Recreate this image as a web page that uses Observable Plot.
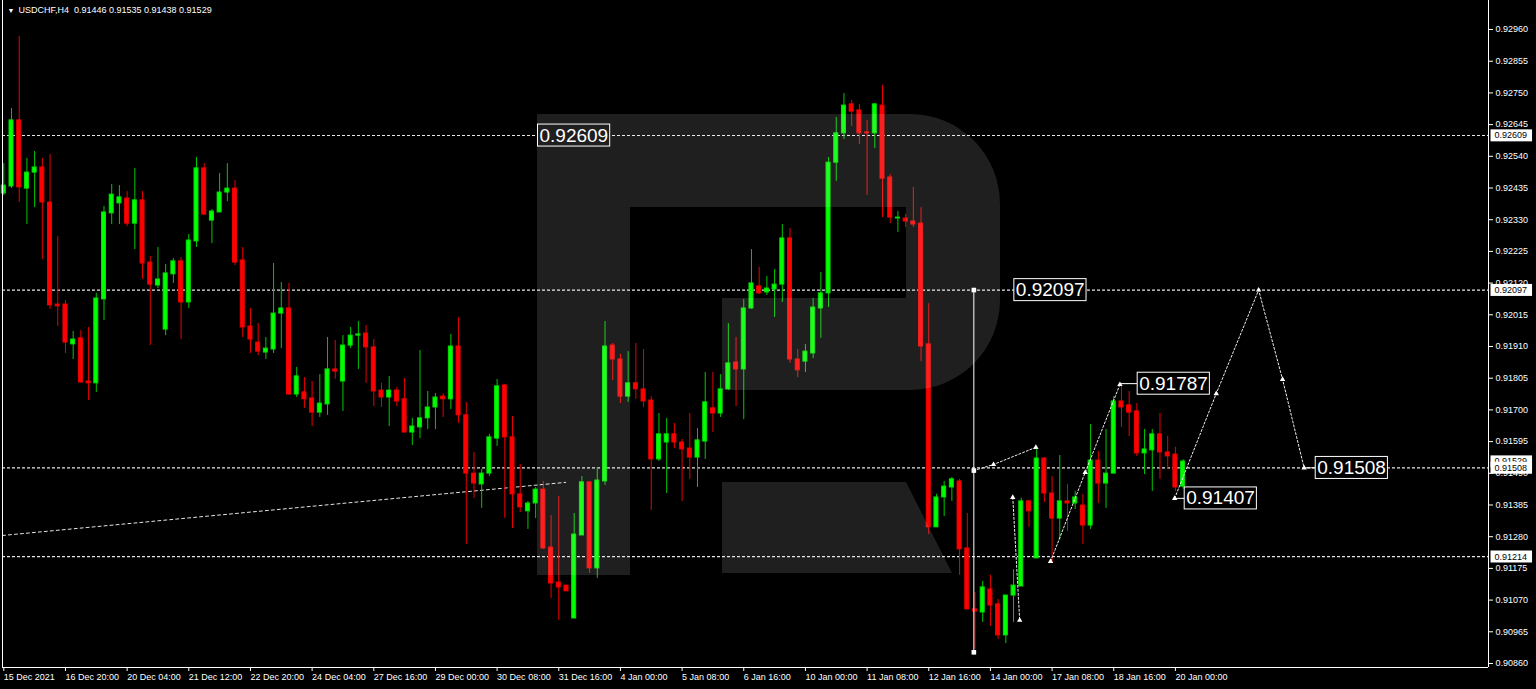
<!DOCTYPE html>
<html><head><meta charset="utf-8">
<script src="https://cdn.jsdelivr.net/npm/d3@7"></script>
<script src="https://cdn.jsdelivr.net/npm/@observablehq/plot@0.6"></script>
<style>
html,body{margin:0;padding:0;background:#000;overflow:hidden}
#chart svg{display:block}
</style></head><body><div id="chart"></div>
<script>
// ---- data (USDCHF H4) ----
const titleText = "USDCHF,H4  0.91446 0.91535 0.91438 0.91529";
const dateLabels = ["15 Dec 2021","16 Dec 20:00","20 Dec 04:00","21 Dec 12:00","22 Dec 20:00","24 Dec 04:00","27 Dec 16:00","29 Dec 00:00","30 Dec 08:00","31 Dec 16:00","4 Jan 00:00","5 Jan 08:00","6 Jan 16:00","10 Jan 00:00","11 Jan 08:00","12 Jan 16:00","14 Jan 00:00","17 Jan 08:00","18 Jan 16:00","20 Jan 00:00"];
const barsPerLabel = 8;
const priceTicks = [0.92960,0.92855,0.92750,0.92645,0.92540,0.92435,0.92330,0.92225,0.92120,0.92015,0.91910,0.91805,0.91700,0.91595,0.91490,0.91385,0.91280,0.91175,0.91070,0.90965,0.90860];

const open = [
0.92417,0.92440,0.92659,0.92433,0.92486,0.92503,0.92387,0.92049,0.92049,0.91917,
0.91937,0.91794,0.91788,0.92066,0.92351,0.92384,0.92400,0.92317,0.92394,0.92188,
0.92112,0.91966,0.92149,0.92192,0.92056,0.92258,0.92500,0.92327,0.92354,0.92420,
0.92433,0.92195,0.91976,0.91923,0.91890,0.91900,0.92019,0.92036,0.91751,0.91758,
0.91738,0.91691,0.91718,0.91834,0.91794,0.91913,0.91946,0.91953,0.91907,0.91764,
0.91741,0.91764,0.91735,0.91625,0.91642,0.91672,0.91708,0.91744,0.91735,0.91910,
0.91682,0.91489,0.91453,0.91489,0.91605,0.91781,0.91609,0.91420,0.91364,0.91390,
0.91436,0.91244,0.91128,0.91118,0.91009,0.91284,0.91460,0.91175,0.91463,0.91913,
0.91867,0.91744,0.91788,0.91768,0.91731,0.91536,0.91592,0.91619,0.91592,0.91572,
0.91542,0.91595,0.91705,0.91688,0.91768,0.91857,0.91834,0.92036,0.92109,0.92089,
0.92099,0.92115,0.92268,0.91867,0.91860,0.91887,0.92036,0.92086,0.92519,0.92616,
0.92712,0.92692,0.92619,0.92616,0.92708,0.92470,0.92334,0.92334,0.92324,0.92317,
0.91917,0.91311,0.91410,0.91443,0.91463,0.91241,0.91039,0.91029,0.91105,0.91056,
0.90953,0.91085,0.91115,0.91397,0.91208,0.91539,0.91423,0.91340,0.91397,0.91390,
0.91383,0.91317,0.91532,0.91456,0.91489,0.91728,0.91715,0.91695,0.91556,0.91566,
0.91619,0.91559,0.91552,0.91446];
const high = [
0.92516,0.92698,0.92937,0.92533,0.92556,0.92533,0.92546,0.92274,0.92062,0.91960,
0.91963,0.91973,0.92086,0.92374,0.92447,0.92443,0.92423,0.92500,0.92423,0.92208,
0.92238,0.92182,0.92201,0.92205,0.92281,0.92536,0.92516,0.92364,0.92483,0.92516,
0.92460,0.92238,0.92036,0.91986,0.91940,0.92185,0.92122,0.92119,0.91841,0.91807,
0.91794,0.91817,0.91940,0.91930,0.91946,0.91973,0.91993,0.91980,0.91933,0.91788,
0.91811,0.91774,0.91804,0.91672,0.91897,0.91761,0.91754,0.91754,0.91950,0.92006,
0.91725,0.91559,0.91503,0.91619,0.91801,0.91784,0.91678,0.91519,0.91397,0.91443,
0.91463,0.91350,0.91413,0.91118,0.91357,0.91479,0.91460,0.91509,0.91993,0.91920,
0.91884,0.91893,0.91920,0.91900,0.91744,0.91688,0.91672,0.91655,0.91602,0.91688,
0.91638,0.91824,0.91824,0.91817,0.91986,0.91940,0.92066,0.92231,0.92172,0.92142,
0.92165,0.92314,0.92301,0.91900,0.91917,0.92069,0.92155,0.92536,0.92669,0.92748,
0.92725,0.92712,0.92659,0.92715,0.92775,0.92480,0.92357,0.92347,0.92437,0.92370,
0.92052,0.91420,0.91463,0.91476,0.91470,0.91357,0.91095,0.91132,0.91152,0.91072,
0.91085,0.91171,0.91407,0.91400,0.91579,0.91542,0.91479,0.91549,0.91453,0.91430,
0.91420,0.91652,0.91562,0.91635,0.91744,0.91781,0.91761,0.91721,0.91635,0.91635,
0.91688,0.91612,0.91576,0.91535];
const low = [
0.92410,0.92433,0.92387,0.92314,0.92370,0.92198,0.92033,0.91976,0.91887,0.91867,
0.91788,0.91731,0.91758,0.91996,0.92314,0.92314,0.92307,0.92231,0.92132,0.91913,
0.92102,0.91946,0.92119,0.91933,0.92036,0.92238,0.92344,0.92251,0.92354,0.92390,
0.92178,0.91940,0.91887,0.91880,0.91867,0.91887,0.91903,0.91748,0.91741,0.91705,
0.91645,0.91675,0.91682,0.91801,0.91695,0.91903,0.91834,0.91788,0.91711,0.91708,
0.91645,0.91711,0.91625,0.91582,0.91605,0.91635,0.91635,0.91675,0.91701,0.91655,
0.91254,0.91407,0.91374,0.91479,0.91579,0.91340,0.91307,0.91360,0.91304,0.91340,
0.91238,0.91075,0.91003,0.91099,0.91009,0.91284,0.91158,0.91142,0.91450,0.91797,
0.91721,0.91725,0.91735,0.91708,0.91367,0.91529,0.91423,0.91572,0.91397,0.91470,
0.91443,0.91536,0.91625,0.91675,0.91764,0.91711,0.91668,0.92033,0.92082,0.92079,
0.92006,0.92056,0.91854,0.91807,0.91824,0.91870,0.91937,0.92039,0.92457,0.92596,
0.92639,0.92579,0.92410,0.92566,0.92337,0.92317,0.92288,0.92304,0.92304,0.91860,
0.91287,0.91311,0.91347,0.91397,0.91152,0.91039,0.90907,0.90996,0.90983,0.90940,
0.90926,0.90996,0.91115,0.91311,0.91208,0.91393,0.91191,0.91268,0.91297,0.91370,
0.91254,0.91304,0.91390,0.91374,0.91489,0.91642,0.91612,0.91546,0.91486,0.91430,
0.91470,0.91503,0.91430,0.91438];
const close = [
0.92443,0.92659,0.92437,0.92486,0.92503,0.92387,0.92046,0.92043,0.91923,0.91933,
0.91791,0.91788,0.92069,0.92354,0.92413,0.92404,0.92317,0.92394,0.92185,0.92115,
0.92132,0.92152,0.92192,0.92056,0.92261,0.92500,0.92347,0.92357,0.92420,0.92433,
0.92188,0.91973,0.91933,0.91893,0.91903,0.92019,0.92036,0.91751,0.91811,0.91735,
0.91691,0.91721,0.91834,0.91827,0.91913,0.91946,0.91950,0.91907,0.91761,0.91741,
0.91764,0.91728,0.91625,0.91645,0.91672,0.91708,0.91741,0.91735,0.91910,0.91682,
0.91489,0.91456,0.91489,0.91609,0.91778,0.91609,0.91420,0.91377,0.91390,0.91436,
0.91241,0.91125,0.91112,0.91099,0.91287,0.91460,0.91175,0.91466,0.91910,0.91867,
0.91744,0.91788,0.91768,0.91728,0.91536,0.91619,0.91619,0.91592,0.91569,0.91542,
0.91599,0.91725,0.91688,0.91768,0.91854,0.91834,0.92036,0.92119,0.92086,0.92102,
0.92115,0.92268,0.91867,0.91831,0.91893,0.92039,0.92086,0.92519,0.92616,0.92708,
0.92688,0.92616,0.92616,0.92712,0.92466,0.92337,0.92337,0.92324,0.92314,0.91910,
0.91311,0.91410,0.91446,0.91470,0.91238,0.91039,0.91032,0.91112,0.91052,0.90953,
0.91085,0.91118,0.91397,0.91364,0.91539,0.91423,0.91340,0.91397,0.91390,0.91410,
0.91317,0.91532,0.91456,0.91489,0.91728,0.91708,0.91691,0.91556,0.91569,0.91619,
0.91559,0.91546,0.91443,0.91529];

// horizontal levels and annotations (bar index / price)
const levels = [0.92609, 0.92097, 0.91508, 0.91214];
const axisBoxes = [0.92609, 0.92097, 0.91529, 0.91508, 0.91214];
const trendBars = [-0.17, 72.9];
const trendPrices = [0.91284, 0.91460];
const pathBars = [
  [125.85, 128.4, 133.9],
  [130.9, 131.8],
  [135.8, 140.3, 144.8],
  [151.9, 157.3, 162.8, 165.9, 168.7]
];
const pathPrices = [
  [0.91499, 0.91519, 0.91576],
  [0.91410, 0.91003],
  [0.91198, 0.91493, 0.91784],
  [0.91407, 0.91754, 0.92097, 0.91801, 0.91508]
];
const vlineBar = 125.85;
const vlinePrices = [0.92097, 0.91499, 0.90897];
const labelTexts = ["0.92609", "0.92097", "0.91787", "0.91508", "0.91407"];
const labelBars = [69.5, 131.3, 147.3, 170.4, 153.4];
const labelPrices = [0.92609, 0.92097, 0.91787, 0.91508, 0.91407];
const stubBars = [[144.8, 147.0], [168.7, 170.1], [151.9, 153.2]];
const stubPrices = [0.91787, 0.91508, 0.91407];

// ---- tables ----
const candles = open.map((o, i) => ({i, o, h: high[i], l: low[i], c: close[i], up: close[i] >= o}));
const pathPts = pathBars.flatMap((bs, k) => bs.map((b, j) => ({k, j, b, p: pathPrices[k][j]})));
const markerPts = pathPts.filter(d => !(d.k === 0 && d.j === 0));
const trend = trendBars.map((b, j) => ({b, p: trendPrices[j]}));
const stubs = stubBars.flatMap((bs, k) => bs.map(b => ({k, b, p: stubPrices[k]})));
const labels = labelTexts.map((t, i) => ({t, b: labelBars[i], p: labelPrices[i]}));
const tickBars = dateLabels.map((_, k) => k * barsPerLabel);

const plot = Plot.plot({
  width: 1536, height: 689,
  marginLeft: 2, marginRight: 48, marginTop: 0, marginBottom: 22,
  style: {background: "#000", color: "#fff", fontFamily: "'Liberation Sans', Arial, sans-serif", fontSize: "9px"},
  x: {type: "linear", domain: [-0.169, 192.62]},
  y: {type: "linear", domain: [0.908467, 0.930561]},
  color: {type: "identity"},
  marks: [
    Plot.ruleY(levels, {stroke: "#e6e6e6", strokeDasharray: "3,2", strokeWidth: 1.2}),
    Plot.line(trend, {x: "b", y: "p", stroke: "#e6e6e6", strokeDasharray: "3,3", strokeWidth: 1}),
    Plot.ruleX(candles, {x: "i", y1: "l", y2: "h", stroke: d => d.up ? "#00c800" : "#e80000", strokeWidth: 1}),
    Plot.rect(candles, {x1: d => d.i - 0.26, x2: d => d.i + 0.26, y1: "o", y2: "c",
      fill: d => d.up ? "#00ff00" : "#ff0000", stroke: d => d.up ? "#00e000" : "#f00000", strokeWidth: 1}),
    Plot.line(pathPts, {x: "b", y: "p", z: "k", stroke: "#f0f0f0", strokeDasharray: "2,2", strokeWidth: 1}),
    Plot.line(stubs, {x: "b", y: "p", z: "k", stroke: "#fff", strokeWidth: 1}),
    Plot.ruleX([vlineBar], {y1: vlinePrices[0], y2: vlinePrices[2], stroke: "#fff", strokeWidth: 1}),
    Plot.dot(vlinePrices, {x: () => vlineBar, y: d => d, symbol: "square", r: 2.6, fill: "#fff"}),
    Plot.dot(markerPts, {x: "b", y: "p", symbol: "triangle", r: 2, fill: "#fff"}),
    Plot.text(labels, {x: "b", y: "p", text: "t", textAnchor: "start", lineAnchor: "middle", fontSize: 19, fill: "#fff", className: "lblbox"}),
    Plot.axisY({anchor: "right", ticks: priceTicks, tickFormat: d => d.toFixed(5), tickSize: 4, tickPadding: 3, label: null}),
    Plot.axisX({anchor: "bottom", ticks: tickBars, tickFormat: d => dateLabels[d / barsPerLabel], tickSize: 4, tickPadding: 2, textAnchor: "start", dx: 0, label: null}),
    Plot.text(axisBoxes, {y: d => d, frameAnchor: "right", dx: 6, text: d => d.toFixed(5), textAnchor: "start", lineAnchor: "middle", fill: "#000", className: "axbox"}),
    Plot.ruleX([-0.169, 192.62], {stroke: "#fff"}),
    Plot.ruleY([0.908467], {stroke: "#fff"}),
    Plot.text([titleText], {frameAnchor: "top-left", dx: 16, dy: 10, textAnchor: "start", lineAnchor: "middle", fill: "#fff"}),
    Plot.text(["\u25BC"], {frameAnchor: "top-left", dx: 5, dy: 10, textAnchor: "start", lineAnchor: "middle", fill: "#fff", fontSize: 7})
  ]
});
document.getElementById("chart").append(plot);

// boxes behind label texts
const NS = "http://www.w3.org/2000/svg";
function boxTexts(cls, o) {
  plot.querySelectorAll("g." + cls + " text").forEach(t => {
    const b = t.getBBox();
    const r = document.createElementNS(NS, "rect");
    r.setAttribute("x", b.x - o.pl);
    r.setAttribute("y", b.y - o.pt);
    r.setAttribute("width", b.width + o.pl + o.pr);
    r.setAttribute("height", b.height + o.pt + o.pb);
    r.setAttribute("fill", o.fill);
    r.setAttribute("stroke", o.stroke);
    r.setAttribute("stroke-width", 1);
    const tr = t.getAttribute("transform");
    if (tr) r.setAttribute("transform", tr);
    t.parentNode.insertBefore(r, t);
  });
}
boxTexts("lblbox", {pl: 2, pr: 1.5, pt: 0.5, pb: 0.5, fill: "#000", stroke: "#fff"});
boxTexts("axbox", {pl: 4, pr: 5, pt: 1, pb: 1, fill: "#fff", stroke: "none"});

// watermark logo (decoration)
const logo = document.createElementNS(NS, "path");
logo.setAttribute("d", "M537,114H910A90,90 0 0 1 1000,204V300A90,90 0 0 1 910,390H722V298H906V207H630V575H537Z M722,482H906L952,573H722Z");
logo.setAttribute("fill", "#fff");
logo.setAttribute("fill-opacity", "0.12");
plot.appendChild(logo);
</script>
</body></html>
